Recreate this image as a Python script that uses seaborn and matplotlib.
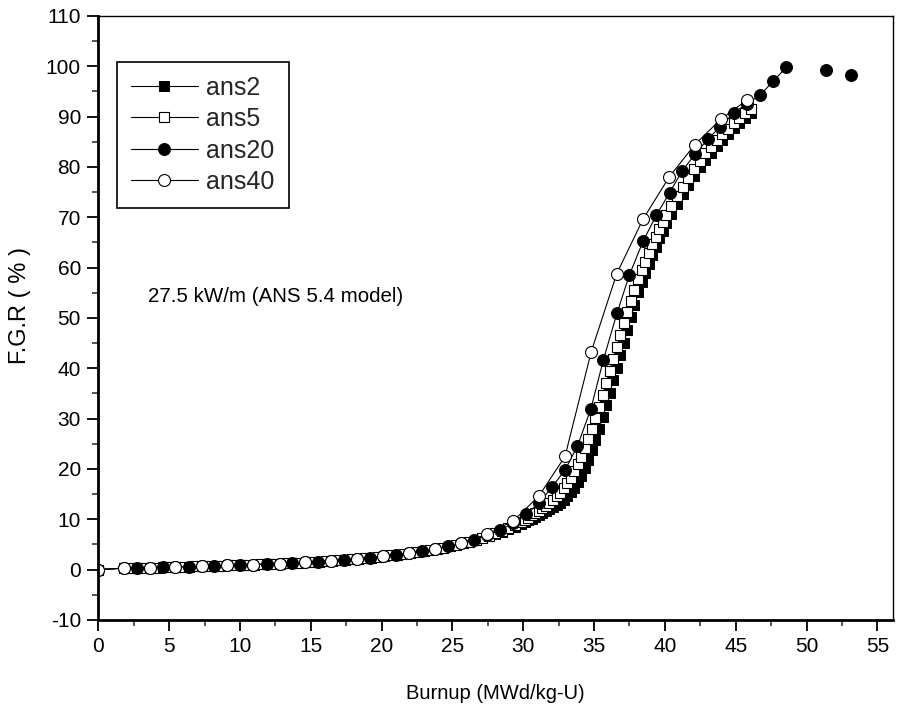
import matplotlib
matplotlib.use("Agg")
import matplotlib.pyplot as plt
import seaborn as sns
import pandas as pd
from matplotlib.ticker import MultipleLocator

# ---------------- data ----------------
x_dense = [0.0, 1.8, 2.26, 2.72, 3.18, 3.64, 4.1, 4.56, 5.02, 5.48, 5.94, 6.4, 6.86, 7.32, 7.78,
           8.24, 8.7, 9.16, 9.62, 10.08, 10.54, 11.0, 11.46, 11.92, 12.38, 12.84, 13.3, 13.76,
           14.22, 14.68, 15.14, 15.6, 16.06, 16.52, 16.98, 17.44, 17.9, 18.36, 18.82, 19.28,
           19.74, 20.2, 20.66, 21.12, 21.58, 22.04, 22.5, 22.96, 23.42, 23.88, 24.34, 24.8,
           25.26, 25.72, 26.18, 26.64, 27.1, 27.56, 28.02, 28.48, 28.94, 29.4, 29.86,
           30.1, 30.35, 30.6, 30.85, 31.1, 31.35, 31.6, 31.85, 32.1, 32.35, 32.6, 32.85,
           33.1, 33.35, 33.6, 33.85, 34.1, 34.35, 34.6, 34.85, 35.1, 35.35, 35.6, 35.85,
           36.1, 36.35, 36.6, 36.85, 37.1, 37.35, 37.6, 37.85, 38.1, 38.35, 38.6, 38.85,
           39.1, 39.35, 39.6, 39.85, 40.1,
           40.45, 40.85, 41.25, 41.65, 42.05, 42.45, 42.85, 43.25, 43.65, 44.05, 44.45,
           44.85, 45.25, 45.65, 46.05]

ans2_y = [0.0, 0.3, 0.32, 0.35, 0.37, 0.4, 0.42, 0.45, 0.48, 0.5, 0.55, 0.6, 0.65, 0.7, 0.72,
          0.75, 0.8, 0.85, 0.88, 0.9, 0.95, 1.0, 1.05, 1.1, 1.15, 1.2, 1.25, 1.3, 1.4, 1.45,
          1.5, 1.6, 1.7, 1.8, 1.9, 2.0, 2.1, 2.2, 2.3, 2.4, 2.55, 2.7, 2.85, 3.0, 3.15, 3.3,
          3.5, 3.7, 3.9, 4.1, 4.35, 4.6, 4.9, 5.2, 5.5, 5.85, 6.2, 6.6, 7.0, 7.5, 8.0, 8.5, 9.1,
          9.5, 9.8, 10.1, 10.5, 10.9, 11.25, 11.6, 12.0, 12.35, 12.8, 13.3, 13.9, 14.6, 15.4,
          16.3, 17.4, 18.7, 20.1, 21.8, 23.7, 25.8, 28.0, 30.3, 32.7, 35.1, 37.6, 40.1, 42.6,
          45.1, 47.6, 50.1, 52.6, 55.1, 57.2, 59.0, 60.8, 62.5, 64.2, 65.8, 67.3, 68.8,
          70.6, 72.7, 74.6, 76.5, 78.3, 79.9, 81.4, 82.8, 84.1, 85.4, 86.6, 87.7, 88.8,
          89.8, 90.7]

ans5_y = [0.0, 0.3, 0.32, 0.35, 0.37, 0.4, 0.42, 0.45, 0.48, 0.5, 0.55, 0.6, 0.65, 0.7, 0.72,
          0.75, 0.8, 0.85, 0.88, 0.9, 0.95, 1.0, 1.05, 1.1, 1.15, 1.2, 1.25, 1.3, 1.4, 1.45,
          1.5, 1.6, 1.7, 1.8, 1.9, 2.0, 2.1, 2.2, 2.3, 2.4, 2.55, 2.7, 2.85, 3.0, 3.15, 3.3,
          3.5, 3.7, 3.9, 4.1, 4.35, 4.6, 4.9, 5.2, 5.55, 5.9, 6.3, 6.75, 7.2, 7.7, 8.25, 8.85,
          9.5,
          9.95, 10.35, 10.8, 11.2, 11.7, 12.15, 12.6, 13.2, 13.85, 14.55, 15.3, 16.2, 17.2,
          18.3, 19.5, 20.9, 22.4, 24.2, 26.0, 28.0, 30.2, 32.4, 34.7, 37.0, 39.5, 41.9, 44.3,
          46.6, 49.0, 51.2, 53.4, 55.6, 57.7, 59.5, 61.2, 62.9, 64.6, 66.1, 67.6, 69.0, 70.4,
          72.2, 74.2, 76.1, 77.9, 79.6, 81.2, 82.7, 84.0, 85.3, 86.5, 87.6, 88.7, 89.7,
          90.7, 91.6]

ans20_x = [0.0, 1.8, 2.72, 3.65, 4.55, 5.45, 6.38, 7.3, 8.2, 9.1, 10.02, 10.95, 11.88, 12.8,
           13.7, 14.6, 15.52, 16.45, 17.38, 18.3, 19.2, 20.1, 21.02, 21.95, 22.88, 23.8, 24.7,
           25.6, 26.52, 27.45, 28.38, 29.3, 30.2, 31.12, 32.02, 32.96, 33.83, 34.77, 35.66,
           36.61, 37.5, 38.45, 39.39, 40.33, 41.22, 42.14, 43.06, 43.9, 44.85, 45.8, 46.73,
           47.63, 48.57, 51.34, 53.16]
ans20_y = [0.0, 0.3, 0.35, 0.4, 0.45, 0.5, 0.6, 0.7, 0.75, 0.85, 0.9, 1.0, 1.1, 1.2, 1.3,
           1.45, 1.6, 1.8, 2.0, 2.2, 2.4, 2.7, 3.0, 3.3, 3.7, 4.1, 4.6, 5.2, 5.9, 6.8, 7.9,
           9.2, 11.0, 13.2, 16.4, 19.8, 24.6, 31.9, 41.7, 50.9, 58.6, 65.2, 70.4, 74.9, 79.2,
           82.6, 85.6, 88.0, 90.7, 92.6, 94.3, 97.0, 99.8, 99.3, 98.2]

ans40_x = [0.0, 1.8, 3.65, 5.45, 7.3, 9.1, 10.95, 12.8, 14.6, 16.45, 18.3, 20.1, 21.95, 23.8,
           25.6, 27.45, 29.3, 31.1, 32.95, 34.8, 36.6, 38.45, 40.3, 42.1, 43.95, 45.8]
ans40_y = [0.0, 0.3, 0.4, 0.5, 0.7, 0.85, 1.0, 1.2, 1.45, 1.8, 2.2, 2.7, 3.3, 4.1, 5.3, 7.0,
           9.7, 14.6, 22.5, 43.3, 58.8, 69.6, 78.0, 84.4, 89.5, 93.3]

series_names = ["ans2", "ans5", "ans20", "ans40"]
x_ticks = [0, 5, 10, 15, 20, 25, 30, 35, 40, 45, 50, 55]
y_ticks = [-10, 0, 10, 20, 30, 40, 50, 60, 70, 80, 90, 100, 110]
x_label = "Burnup (MWd/kg-U)"
y_label = "F.G.R ( % )"
note = "27.5 kW/m (ANS 5.4 model)"

# ---------------- figure ----------------
sns.set_theme(style="ticks")
plt.rcParams["font.family"] = ["Liberation Sans", "DejaVu Sans"]
plt.rcParams["axes.unicode_minus"] = False
plt.rcParams["axes.linewidth"] = 1.0

fig = plt.figure(figsize=(8.99, 7.10), dpi=100)
ax = fig.add_axes([0.1093, 0.1268, 0.884, 0.8507])

lw = 0.8
sq = 7.2
ci = 8.6
sns.lineplot(x=x_dense, y=ans2_y, ax=ax, sort=False, estimator=None, color="black",
             linewidth=lw, marker="s", markersize=sq, markerfacecolor="black",
             markeredgecolor="black", markeredgewidth=0.7, label=series_names[0])
sns.lineplot(x=x_dense, y=ans5_y, ax=ax, sort=False, estimator=None, color="black",
             linewidth=lw, marker="s", markersize=sq, markerfacecolor="white",
             markeredgecolor="black", markeredgewidth=0.8, label=series_names[1])

n_line = sum(1 for v in ans20_x if v < 50)
sns.lineplot(x=ans20_x[:n_line], y=ans20_y[:n_line], ax=ax, sort=False, estimator=None,
             color="black", linewidth=lw, marker="o", markersize=ci, markerfacecolor="black",
             markeredgecolor="black", markeredgewidth=0.7, label=series_names[2])
sns.scatterplot(x=ans20_x[n_line:], y=ans20_y[n_line:], ax=ax, color="black", marker="o",
                s=ci ** 2, edgecolor="black", linewidth=0.7, legend=False)

sns.lineplot(x=ans40_x, y=ans40_y, ax=ax, sort=False, estimator=None, color="black",
             linewidth=lw, marker="o", markersize=ci, markerfacecolor="white",
             markeredgecolor="black", markeredgewidth=0.8, label=series_names[3])

ax.set_xlim(0, 56.1)
ax.set_ylim(-10, 110)
ax.set_xticks(x_ticks)
ax.set_yticks(y_ticks)
ax.xaxis.set_minor_locator(MultipleLocator(2.5))
ax.yaxis.set_minor_locator(MultipleLocator(5))
ax.tick_params(axis="both", which="major", direction="out", length=8, width=1.3,
               labelsize=15, colors="black", pad=4.5)
ax.tick_params(axis="both", which="minor", direction="out", length=4.5, width=1.1)
ax.tick_params(top=False, right=False, which="both")

for side in ["top", "right"]:
    ax.spines[side].set_visible(True)
    ax.spines[side].set_linewidth(1.0)
    ax.spines[side].set_color("black")
for side in ["left", "bottom"]:
    ax.spines[side].set_linewidth(2.0)
    ax.spines[side].set_color("black")

ax.set_xlabel(x_label, fontsize=14.5, color="black", labelpad=20)
ax.set_ylabel(y_label, fontsize=17, color="black", labelpad=8)
ax.yaxis.set_label_coords(-0.085, 0.52)
ax.text(3.5, 54.2, note, fontsize=14.8, color="black", va="center", ha="left")

leg = ax.legend(loc="upper left", bbox_to_anchor=(0.0235, 0.924), frameon=True,
                fancybox=False, edgecolor="black", framealpha=1, fontsize=18,
                handlelength=2.7, labelspacing=0.3, borderpad=0.55, handletextpad=0.33,
                borderaxespad=0)
leg.get_frame().set_linewidth(1.2)

fig.savefig("out.png", dpi=100)
